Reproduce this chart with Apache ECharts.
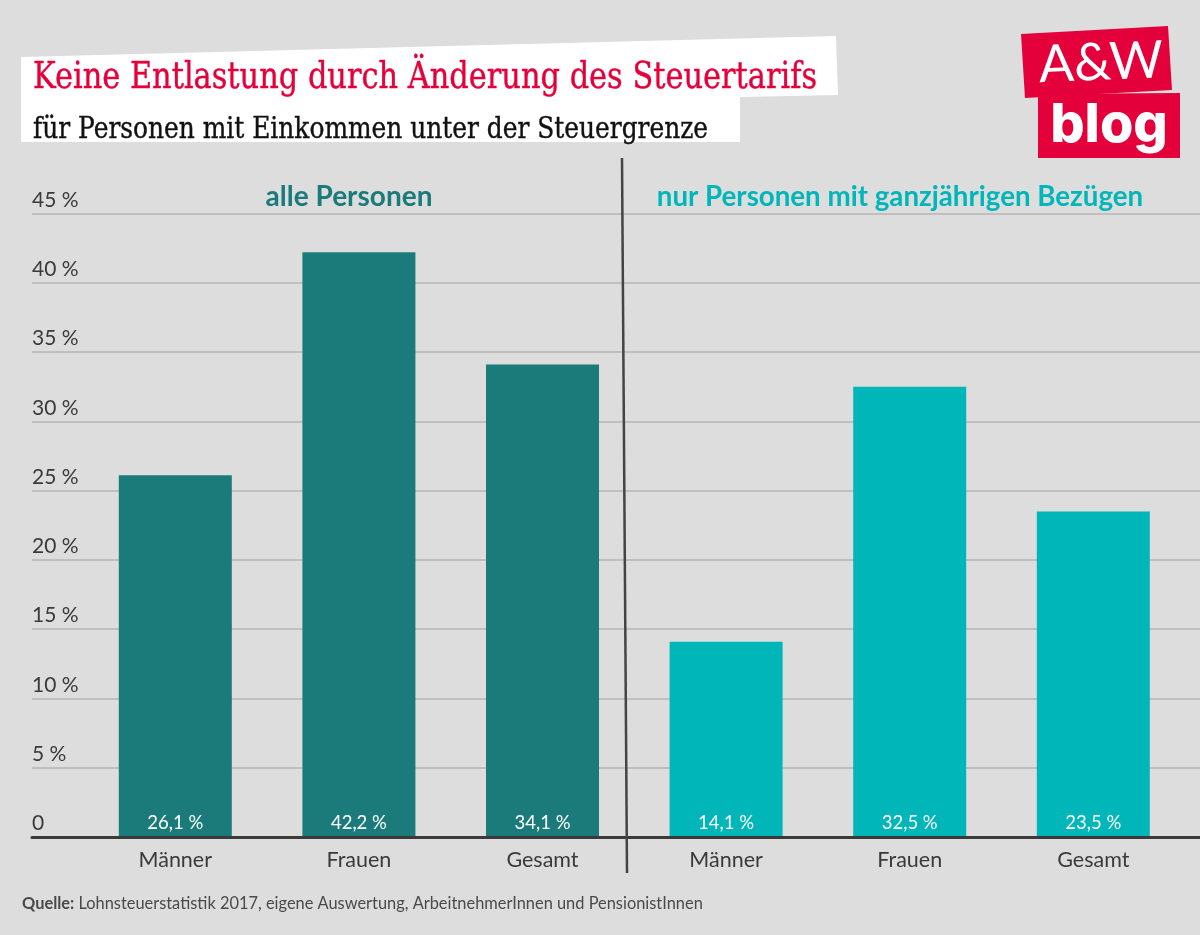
<!DOCTYPE html>
<html>
<head>
<meta charset="utf-8">
<style>html,body{margin:0;padding:0;background:#ddd}#main{width:1200px;height:935px}</style>
<script src="https://cdn.jsdelivr.net/npm/echarts@6/dist/echarts.min.js"></script>
</head>
<body>
<div id="main"></div>
<script>
var categories = ['Männer', 'Frauen', 'Gesamt', 'Männer', 'Frauen', 'Gesamt'];
// 3 values per panel, the other panel stays empty
var alleValues = [26.1, 42.2, 34.1, null, null, null];
var nurValues = [null, null, null, 14.1, 32.5, 23.5];
var yTicks = [0, 5, 10, 15, 20, 25, 30, 35, 40, 45];

var TEAL_DARK = '#1a7b7a', TEAL = '#00b6b9', RED = '#e4003a', INK = '#3a3a3a';
var LABEL_FONT = 'Lato';

var pct = function (v) { return String(v).replace('.', ',') + ' %'; };
var barLabel = {
  show: true, position: 'insideBottom', distance: 4, color: '#fff',
  fontFamily: LABEL_FONT, fontSize: 18.5,
  formatter: function (p) { return pct(p.value); }
};

var chart = echarts.init(document.getElementById('main'));
chart.setOption({
  backgroundColor: '#ddd',
  animation: false,
  title: [
    { text: 'alle Personen', left: 344, top: 178, textAlign: 'center',
      textStyle: { color: TEAL_DARK, fontFamily: LABEL_FONT, fontWeight: 'bold', fontSize: 28 } },
    { text: 'nur Personen mit ganzjährigen Bezügen', left: 895, top: 178, textAlign: 'center',
      textStyle: { color: TEAL, fontFamily: LABEL_FONT, fontWeight: 'bold', fontSize: 27.7 } }
  ],
  grid: [
    // full width grid only carries gridlines, y labels and the baseline
    { left: 32, right: 0, top: 213.5, height: 623.5 },
    { left: 83.5, width: 1101.6, top: 213.5, height: 623.5 }
  ],
  xAxis: [
    { gridIndex: 0, type: 'value', min: 0, max: 1, axisLabel: { show: false }, axisTick: { show: false },
      splitLine: { show: false }, axisLine: { show: true, onZero: false, lineStyle: { color: INK, width: 3 } }, z: 5 },
    { gridIndex: 1, type: 'category', data: categories, axisLine: { show: false }, axisTick: { show: false },
      axisLabel: { color: INK, fontFamily: LABEL_FONT, fontSize: 21.5, margin: 12 } }
  ],
  yAxis: [
    { gridIndex: 0, type: 'value', min: 0, max: 45, interval: 5,
      axisLine: { show: false }, axisTick: { show: false },
      splitLine: { lineStyle: { color: '#b4b4b4', width: 1.5 } },
      axisLabel: {
        inside: true, margin: 0, color: INK, fontFamily: LABEL_FONT, fontSize: 21,
        align: 'left', verticalAlign: 'bottom', padding: [0, 0, 3, 0],
        formatter: function (v) { return yTicks.indexOf(v) > 0 ? v + ' %' : '0'; }
      } },
    { gridIndex: 1, type: 'value', min: 0, max: 45, interval: 5, show: false }
  ],
  series: [
    { name: 'alle Personen', type: 'bar', xAxisIndex: 1, yAxisIndex: 1, data: alleValues,
      barWidth: 113, barGap: '-100%', itemStyle: { color: TEAL_DARK }, label: barLabel },
    { name: 'nur Personen mit ganzjährigen Bezügen', type: 'bar', xAxisIndex: 1, yAxisIndex: 1, data: nurValues,
      barWidth: 113, barGap: '-100%', itemStyle: { color: TEAL }, label: barLabel }
  ],
  graphic: [
    // white title strip
    { type: 'polygon', z: 0, shape: { points: [[21, 57], [836, 36], [838, 95], [740, 97], [740, 142], [21, 142]] },
      style: { fill: '#fff' } },
    // no condensed slab font here, so squeeze DejaVu Serif horizontally
    { type: 'text', z: 3, x: 33, y: 78, scaleX: 0.822,
      style: { text: 'Keine Entlastung durch Änderung des Steuertarifs', fill: RED, stroke: RED, lineWidth: 0.4,
        font: '37px "DejaVu Serif"', verticalAlign: 'middle' } },
    { type: 'text', z: 3, x: 33, y: 130, scaleX: 0.858,
      style: { text: 'für Personen mit Einkommen unter der Steuergrenze', fill: '#111', stroke: '#111', lineWidth: 0.4,
        font: '29px "DejaVu Serif"', verticalAlign: 'middle' } },
    // panel divider
    { type: 'line', z: 10, shape: { x1: 622, y1: 158, x2: 627, y2: 873 }, style: { stroke: '#444', lineWidth: 2.5 } },
    // logo
    { type: 'polygon', z: 1, shape: { points: [[1021, 34], [1168, 26], [1172, 90], [1025, 98]] }, style: { fill: RED } },
    { type: 'polygon', z: 1, shape: { points: [[1038, 94], [1180, 93], [1180, 158], [1038, 158]] }, style: { fill: RED } },
    { type: 'text', z: 2, x: 1101, y: 63, rotation: 0.04,
      style: { text: 'A&W', fill: '#fff', font: '400 52px Lato', align: 'center', verticalAlign: 'middle' } },
    { type: 'text', z: 2, x: 1109, y: 126,
      style: { text: 'blog', fill: '#fff', font: '800 54px Inter', align: 'center', verticalAlign: 'middle' } },
    // source line
    { type: 'text', z: 2, x: 22, y: 904,
      style: { text: '{b|Quelle:} Lohnsteuerstatistik 2017, eigene Auswertung, ArbeitnehmerInnen und PensionistInnen',
        fill: '#4a4a4a', font: '16.4px Lato', verticalAlign: 'middle',
        rich: { b: { fontFamily: 'Lato', fontWeight: 'bold', fontSize: 16.4, fill: '#4a4a4a' } } } }
  ]
});
</script>
</body>
</html>
